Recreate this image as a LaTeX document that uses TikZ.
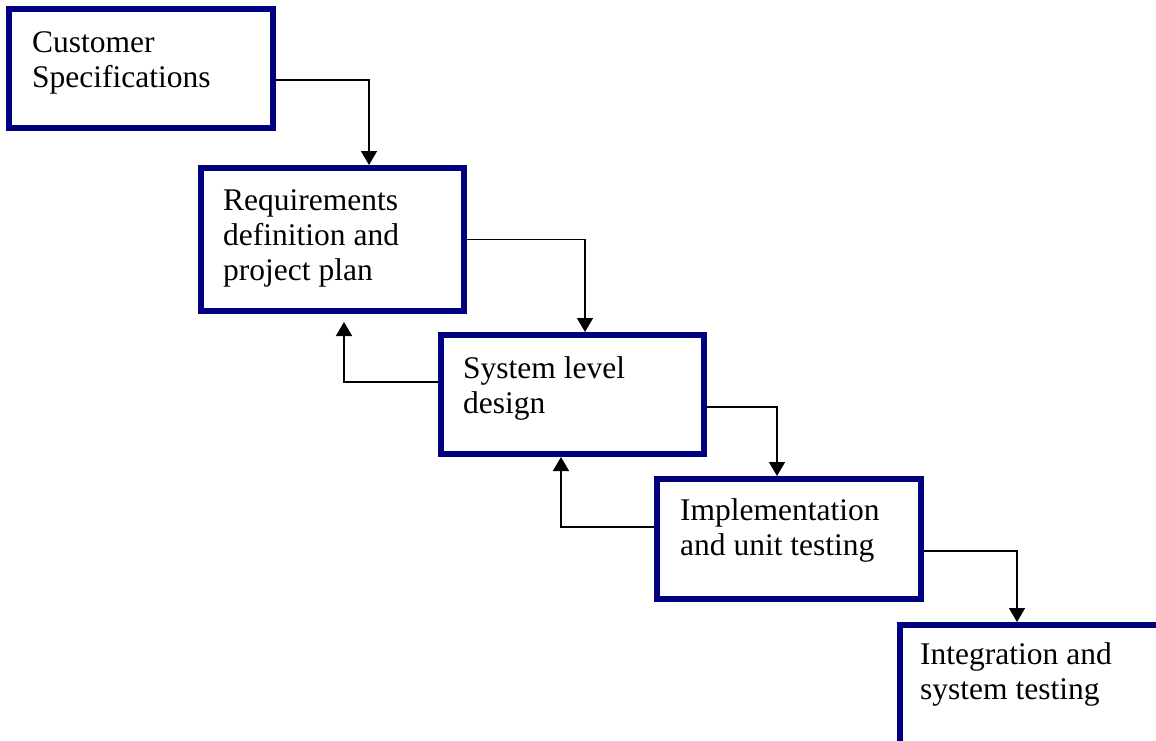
\documentclass[tikz,border=0pt]{standalone}
\usepackage{fontspec}
\setmainfont{Liberation Serif}
\usetikzlibrary{arrows.meta}
\definecolor{stageblue}{RGB}{0,0,128}
\tikzset{
  stage/.style={rectangle, draw=stageblue, line width=6pt, fill=white, inner sep=0pt},
  stagetext/.style={anchor=north west, inner sep=0pt, align=left,
    font=\fontsize{31.5pt}{35pt}\selectfont},
  link/.style={draw=black, line width=1.5pt, -{Triangle[width=16pt,length=14pt]}},
}
\begin{document}
\begin{tikzpicture}[x=1pt,y=-1pt]
\useasboundingbox (0,0) rectangle (1156,740);
\clip (0,0) rectangle (1156,740);

% process stages
\node[stage, minimum width=264pt, minimum height=119pt] (b1) at (141,68.5) {};
\node[stage, minimum width=263pt, minimum height=143pt] (b2) at (332.5,239.5) {};
\node[stage, minimum width=263pt, minimum height=119pt] (b3) at (572.5,394.5) {};
\node[stage, minimum width=264pt, minimum height=120pt] (b4) at (789,539) {};
\node[stage, minimum width=264pt, minimum height=130pt] (b5) at (1032,690) {};

% stage labels
\node[stagetext] (t1) at ([shift={(26,21.5)}]b1.north west) {\strut Customer\\Specifications};
\node[stagetext] (t2) at ([shift={(25,20.5)}]b2.north west) {\strut Requirements\\definition and\\project plan};
\node[stagetext] (t3) at ([shift={(25,21.5)}]b3.north west) {\strut System level\\design};
\node[stagetext] (t4) at ([shift={(26,19.5)}]b4.north west) {\strut Implementation\\and unit testing};
\node[stagetext] (t5) at ([shift={(23,17.5)}]b5.north west) {\strut Integration and\\system testing};

% forward flow
\draw[link] ([shift={(0,11.5)}]b1.east) -| ([shift={(36.5,0)}]b2.north);
\draw[link] (b2.east) -| ([shift={(12.5,0)}]b3.north);
\draw[link] ([shift={(0,12.5)}]b3.east) -| ([shift={(-12,0)}]b4.north);
\draw[link] ([shift={(0,12)}]b4.east) -| ([shift={(-15,0)}]b5.north);

% feedback
\draw[link, shorten >=8pt] ([shift={(0,-12.5)}]b3.west) -| ([shift={(11.5,0)}]b2.south);
\draw[link] ([shift={(0,-12)}]b4.west) -| ([shift={(-11.5,0)}]b3.south);
\end{tikzpicture}
\end{document}
